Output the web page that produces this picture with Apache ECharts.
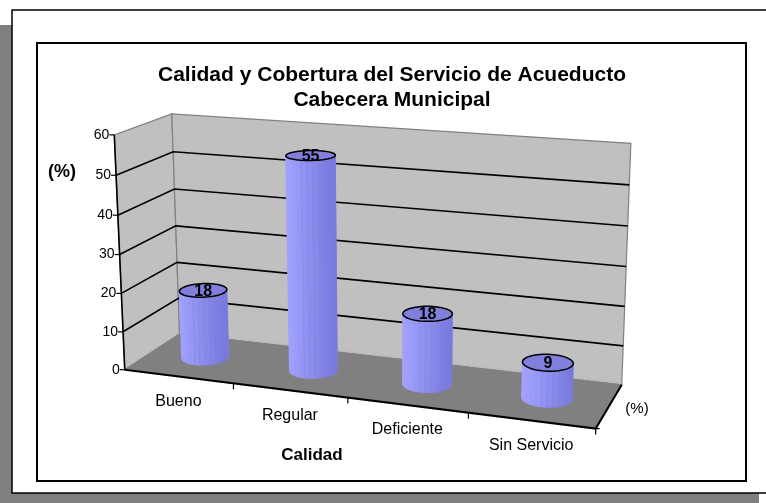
<!DOCTYPE html>
<html>
<head>
<meta charset="utf-8">
<script src="https://cdn.jsdelivr.net/npm/echarts@6/dist/echarts.min.js"></script>
<style>
  html, body { margin: 0; padding: 0; background: #fff; }
  #main { width: 766px; height: 503px; }
</style>
</head>
<body>
<div id="main"></div>
<script>
// data
const categories = ['Bueno', 'Regular', 'Deficiente', 'Sin Servicio'];
const values = [18, 55, 18, 9];
const yTicks = [0, 10, 20, 30, 40, 50, 60];
const gridTicks = [10, 20, 30, 40, 50];

const FONT = '"Liberation Sans", Arial, sans-serif';

// where the corners of the 3d box land on the page (u: along categories, v: depth, w: height)
const anchors = [
  [0, 0, 0, 124, 370], [1, 0, 0, 595, 428], [0, 1, 0, 180, 333], [1, 1, 0, 622, 385],
  [0, 0, 1, 115, 134], [0, 1, 1, 171, 115], [1, 1, 1, 631, 143],
  [0.25, 0, 0, 234, 383], [0.5, 0, 0, 348, 399]
];

// least squares perspective camera (DLT, m34 = 1)
function solveCamera(pairs) {
  const n = 11;
  const M = [];
  for (let i = 0; i < n; i++) M.push(new Array(n + 1).fill(0));
  pairs.forEach(([X, Y, Z, x, y]) => {
    const r1 = [X, Y, Z, 1, 0, 0, 0, 0, -x * X, -x * Y, -x * Z, x];
    const r2 = [0, 0, 0, 0, X, Y, Z, 1, -y * X, -y * Y, -y * Z, y];
    [r1, r2].forEach(r => {
      for (let i = 0; i < n; i++) for (let j = 0; j <= n; j++) M[i][j] += r[i] * r[j];
    });
  });
  for (let c = 0; c < n; c++) {
    let p = c;
    for (let r = c + 1; r < n; r++) if (Math.abs(M[r][c]) > Math.abs(M[p][c])) p = r;
    const tmp = M[c]; M[c] = M[p]; M[p] = tmp;
    for (let r = 0; r < n; r++) {
      if (r === c) continue;
      const f = M[r][c] / M[c][c];
      for (let j = c; j <= n; j++) M[r][j] -= f * M[c][j];
    }
  }
  return M.map((row, i) => row[n] / row[i]);
}
const cam = solveCamera(anchors);
function P(u, v, w) {
  const d = cam[8] * u + cam[9] * v + cam[10] * w + 1;
  return [(cam[0] * u + cam[1] * v + cam[2] * w + cam[3]) / d,
          (cam[4] * u + cam[5] * v + cam[6] * w + cam[7]) / d];
}

// turn a data point into normalized box coords through the (hidden) cartesian axes
function toBox(api, cs, cat, val) {
  const pt = api.coord([cat, val]);
  return [(pt[0] - cs.x) / cs.width, (cs.y + cs.height - pt[1]) / cs.height];
}

function poly(pts, style) {
  return { type: 'polygon', shape: { points: pts }, style: style };
}
function pline(pts, style) {
  return { type: 'polyline', shape: { points: pts }, style: Object.assign({ fill: null }, style) };
}
function txt(x, y, text, font, align) {
  return {
    type: 'text', x: x, y: y,
    style: { text: text, font: font, fill: '#000', align: align || 'center', verticalAlign: 'middle' }
  };
}

function renderScene(params, api) {
  const cs = params.coordSys;
  const kids = [];
  const wall = { fill: '#c0c0c0', stroke: '#808080', lineWidth: 1.2 };
  kids.push(poly([P(0, 0, 0), P(0, 1, 0), P(0, 1, 1), P(0, 0, 1)], wall));
  kids.push(poly([P(0, 1, 0), P(1, 1, 0), P(1, 1, 1), P(0, 1, 1)], wall));
  kids.push(poly([P(0, 0, 0), P(1, 0, 0), P(1, 1, 0), P(0, 1, 0)], { fill: '#808080', stroke: '#808080', lineWidth: 1 }));
  kids.push(pline([P(0, 0, 0.008), P(0, 1, 0.008), P(1, 1, 0.008)], { stroke: '#b8b8b8', lineWidth: 1, lineDash: [4, 2] }));

  // gridlines on the walls
  gridTicks.forEach(t => {
    const w = toBox(api, cs, 0, t)[1];
    kids.push(pline([P(0, 0, w), P(0, 1, w), P(1, 1, w)], { stroke: '#000', lineWidth: 1.6 }));
  });

  // value axis
  kids.push(pline([P(0, 0, 0), P(0, 0, 1)], { stroke: '#000', lineWidth: 1.6 }));
  yTicks.forEach(t => {
    const w = toBox(api, cs, 0, t)[1];
    const p = P(0, 0, w);
    kids.push(pline([[p[0] - 5, p[1]], p], { stroke: '#000', lineWidth: 1.2 }));
    kids.push(txt(p[0] - 5, p[1], String(t), '14px ' + FONT, 'right'));
  });

  // category axis along the front floor edge
  kids.push(pline([P(0, 0, 0), P(1, 0, 0), P(1, 1, 0)], { stroke: '#000', lineWidth: 2 }));
  for (let k = 1; k <= categories.length; k++) {
    const p = P(k / categories.length, 0, 0);
    kids.push(pline([p, [p[0], p[1] + 6]], { stroke: '#000', lineWidth: 1.2 }));
  }
  const pr = P(1, 0, 0);
  kids.push(pline([pr, [pr[0] + 4, pr[1]]], { stroke: '#000', lineWidth: 1.2 }));
  categories.forEach((c, i) => {
    const u = toBox(api, cs, i, 0)[0];
    const p = P(u, 0, 0);
    kids.push(txt(p[0], p[1] + 25, c, '16px ' + FONT));
  });

  // axis names
  kids.push(txt(312, 455, 'Calidad', 'bold 17px ' + FONT));
  kids.push(txt(62, 172, '(%)', 'bold 18px ' + FONT));
  kids.push(txt(637, 409, '(%)', '15px ' + FONT));
  return { type: 'group', children: kids };
}

const LIGHT = [162, 162, 255], DARK = [122, 122, 222];
function shade(t) {
  const c = LIGHT.map((l, i) => Math.round(l + (DARK[i] - l) * t));
  return 'rgb(' + c.join(',') + ')';
}

function renderCylinder(params, api) {
  const cs = params.coordSys;
  const i = api.value(0);
  const [uc, top] = toBox(api, cs, i, api.value(1));
  const ru = 0.2 / categories.length, rv = 0.2, vc = 0.5;
  const N = 28;
  const ring = w => {
    const pts = [];
    for (let k = 0; k < N; k++) {
      const a = (2 * Math.PI * k) / N;
      pts.push(P(uc + ru * Math.cos(a), vc + rv * Math.sin(a), w));
    }
    return pts;
  };
  const base = ring(0), cap = ring(top);
  const facets = [];
  for (let k = 0; k < N; k++) {
    const k2 = (k + 1) % N;
    const mid = (2 * Math.PI * (k + 0.5)) / N;
    facets.push({ s: Math.sin(mid), c: Math.cos(mid), pts: [base[k], base[k2], cap[k2], cap[k]] });
  }
  facets.sort((a, b) => b.s - a.s);
  const kids = facets.map(f => {
    const col = shade(Math.pow((1 + f.c) / 2, 1.6));
    return poly(f.pts, { fill: col, stroke: col, lineWidth: 0.5 });
  });
  // faint facet seams
  facets.filter(f => f.s < 0).forEach((f, k) => {
    if (k % 2) kids.push(pline([f.pts[0], f.pts[3]], { stroke: 'rgba(120,120,220,0.45)', lineWidth: 0.6 }));
  });
  kids.push(poly(cap, { fill: '#8080dc', stroke: '#000', lineWidth: 1.5 }));
  const c = P(uc, vc, top);
  kids.push(txt(c[0], c[1] + 1, String(api.value(1)), 'bold 16px ' + FONT));
  return { type: 'group', children: kids };
}

const chart = echarts.init(document.getElementById('main'), null, { renderer: 'canvas' });
chart.setOption({
  animation: false,
  title: {
    text: 'Calidad y Cobertura del Servicio de Acueducto\nCabecera Municipal',
    left: 387,
    top: 58,
    textAlign: 'center',
    textStyle: { fontFamily: FONT, fontSize: 21, fontWeight: 'bold', color: '#000', lineHeight: 25 }
  },
  graphic: [
    { type: 'rect', z: -10, shape: { x: 0, y: 25, width: 759, height: 478 }, style: { fill: '#808080' } },
    { type: 'rect', z: -9, shape: { x: 12, y: 10, width: 770, height: 483 }, style: { fill: '#fff', stroke: '#000', lineWidth: 1.5 } },
    { type: 'rect', z: -8, shape: { x: 37, y: 43, width: 709, height: 438 }, style: { fill: '#fff', stroke: '#000', lineWidth: 2 } }
  ],
  grid: { left: 0, top: 0, width: 400, height: 300, show: false },
  xAxis: { type: 'category', data: categories, show: false },
  yAxis: { type: 'value', min: 0, max: 60, interval: 10, show: false },
  series: [
    { type: 'custom', z: 1, clip: false, silent: true, data: [[0, 0]], renderItem: renderScene },
    { type: 'custom', z: 2, clip: false, data: values.map((v, i) => [i, v]), renderItem: renderCylinder }
  ]
});
</script>
</body>
</html>
